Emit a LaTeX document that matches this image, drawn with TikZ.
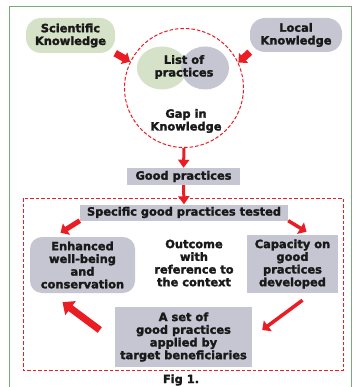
\documentclass[tikz,border=0pt]{standalone}
\usepackage{fontspec}
\newfontfamily\heavyfont{DejaVu Sans Bold}[FakeBold=2]
\usetikzlibrary{arrows.meta,shapes.geometric}
\definecolor{arrowred}{RGB}{234,28,36}
\definecolor{sciGreen}{RGB}{214,226,200}
\definecolor{locGrey}{RGB}{198,198,210}
\definecolor{frameGreen}{RGB}{120,172,120}
\tikzset{
  txt/.style={font=\heavyfont\fontsize{11.4}{12.7}\selectfont,align=center,text=black!90},
  blob/.style={txt,inner sep=0pt,rounded corners=15pt},
  box/.style={txt,inner sep=0pt,fill=locGrey},
  reddash/.style={draw=arrowred,line width=1pt,dash pattern=on 3.5pt off 2pt},
  arr/.style={draw=arrowred,line width=#1,-{Triangle[length=7pt,width=13pt]}},
  arr/.default=5pt
}
\begin{document}
\begin{tikzpicture}[x=1pt,y=-1pt]
\useasboundingbox (0,0) rectangle (357,387);
\fill[white] (0,0) rectangle (357,387);
\draw[frameGreen,line width=1pt] (9,7) rectangle (351,400);
\node[blob,fill=sciGreen,minimum width=89pt,minimum height=35pt] (sci) at (70.5,35.5) {Scientific\\Knowledge};
\node[blob,fill=locGrey,minimum width=92pt,minimum height=34pt] (loc) at (296,35) {Local\\Knowledge};
\node[ellipse,fill=sciGreen,minimum width=50pt,minimum height=43pt,inner sep=0pt] (sciell) at (162,68) {};
\node[ellipse,fill=locGrey,minimum width=48pt,minimum height=43pt,inner sep=0pt] (locell) at (205,68) {};
\node[txt] (list) at (184,67) {List of\\practices};
\node[circle,reddash,minimum size=119pt,inner sep=0pt] (gap) at (184,88) {};
\node[txt] (gaptxt) at (186,121) {Gap in\\Knowledge};
\node[box,minimum width=113pt,minimum height=17pt] (good) at (183.5,176.5) {Good practices};
\draw[reddash] (23,198) rectangle (343,370);
\node[box,minimum width=208pt,minimum height=16pt] (spec) at (184,212.5) {Specific good practices tested};
\node[box,rounded corners=12pt,minimum width=105pt,minimum height=56pt] (enh) at (82.5,265) {Enhanced\\well-being\\and\\conservation};
\node[txt] (outcome) at (194,263) {Outcome\\with\\reference to\\the context};
\node[box,minimum width=91pt,minimum height=58pt] (cap) at (292.5,264) {Capacity on\\good\\practices\\developed};
\node[box,minimum width=137pt,minimum height=60pt] (set) at (183.5,337) {A set of\\good practices\\applied by\\target beneficiaries};
\node[txt] (fig) at (181,380) {Fig 1.};
\draw[arr=7pt] (sci.south east) -- (gap.154);
\draw[arr=7pt] (loc.south west) -- (gap.25);
\draw[draw=arrowred,line width=3pt,-{Triangle[length=8pt,width=11pt]}] (gap.south) -- (good.north);
\draw[draw=arrowred,line width=3pt,-{Triangle[length=8pt,width=11pt]}] (good.south) -- (spec.north);
\draw[arr] (spec.south west) -- ([xshift=-22pt,yshift=4pt]enh.north);
\draw[arr=3.5pt] (spec.south east) -- ([xshift=14pt,yshift=3pt]cap.north);
\draw[arr=3.5pt] ([xshift=10pt,yshift=-7pt]cap.south) -- ([xshift=10pt,yshift=7pt]set.east);
\draw[draw=arrowred,line width=7pt,-{Triangle[length=10pt,width=17pt]}] ([xshift=-15pt,yshift=7pt]set.west) -- ([xshift=-20pt,yshift=-9pt]enh.south);
\end{tikzpicture}
\end{document}
